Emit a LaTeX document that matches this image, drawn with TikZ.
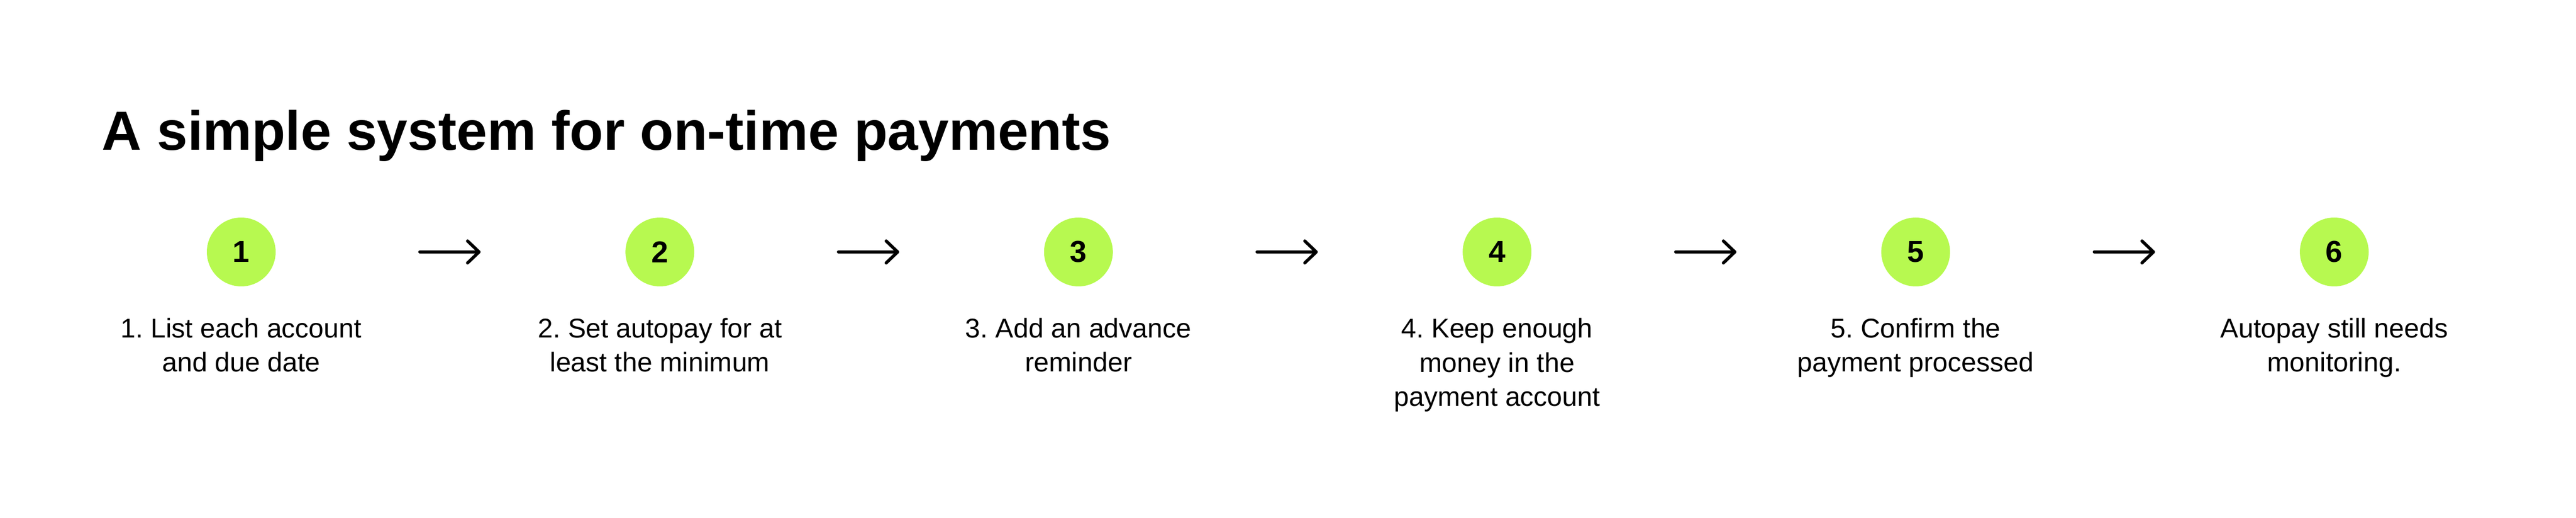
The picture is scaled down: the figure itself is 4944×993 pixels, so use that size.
\documentclass[tikz,border=0pt]{standalone}
\usepackage{fontspec}
\setmainfont{Liberation Sans}
\usetikzlibrary{arrows.meta}
\frenchspacing
\definecolor{lime}{RGB}{183,249,80}
\tikzset{
  stepdot/.style={circle,fill=lime,draw=none,minimum size=33pt,inner sep=0pt,
    font=\fontsize{14.5pt}{17pt}\selectfont\bfseries},
  steplabel/.style={align=center,anchor=base,inner sep=0pt,
    font=\fontsize{13pt}{16.25pt}\selectfont\frenchspacing},
  flowarrow/.style={line width=1.5pt,line cap=round,
    -{Straight Barb[length=5.5pt,width=10.5pt,round]},
    shorten <=69pt,shorten >=69.3pt},
  titletext/.style={anchor=base west,inner sep=0pt,
    font=\fontsize{26.4pt}{30pt}\selectfont\bfseries}
}
\begin{document}
\begin{tikzpicture}[x=0.25pt,y=-0.25pt]
\useasboundingbox (0,0) rectangle (4944,993);
\node[titletext] (title) at (195,288) {A simple system for on-time payments};
\foreach \i/\n/\t [evaluate=\i as \xx using {463+(\i-1)*803.4},
                   evaluate=\n as \yy using {648+(\n-1)*65}] in {%
  1/2/{1. List each account\\and due date},
  2/2/{2. Set autopay for at\\least the minimum},
  3/2/{3. Add an advance\\reminder},
  4/3/{4. Keep enough\\money in the\\payment account},
  5/2/{5. Confirm the\\payment processed},
  6/2/{Autopay still needs\\monitoring.}}{
  \node[stepdot] (c\i) at (\xx,483) {\i};
  \node[steplabel] (l\i) at (\xx,\yy) {\t};
}
\foreach \a/\b in {1/2,2/3,3/4,4/5,5/6}{
  \draw[flowarrow] (c\a) -- (c\b);
}
\end{tikzpicture}
\end{document}
